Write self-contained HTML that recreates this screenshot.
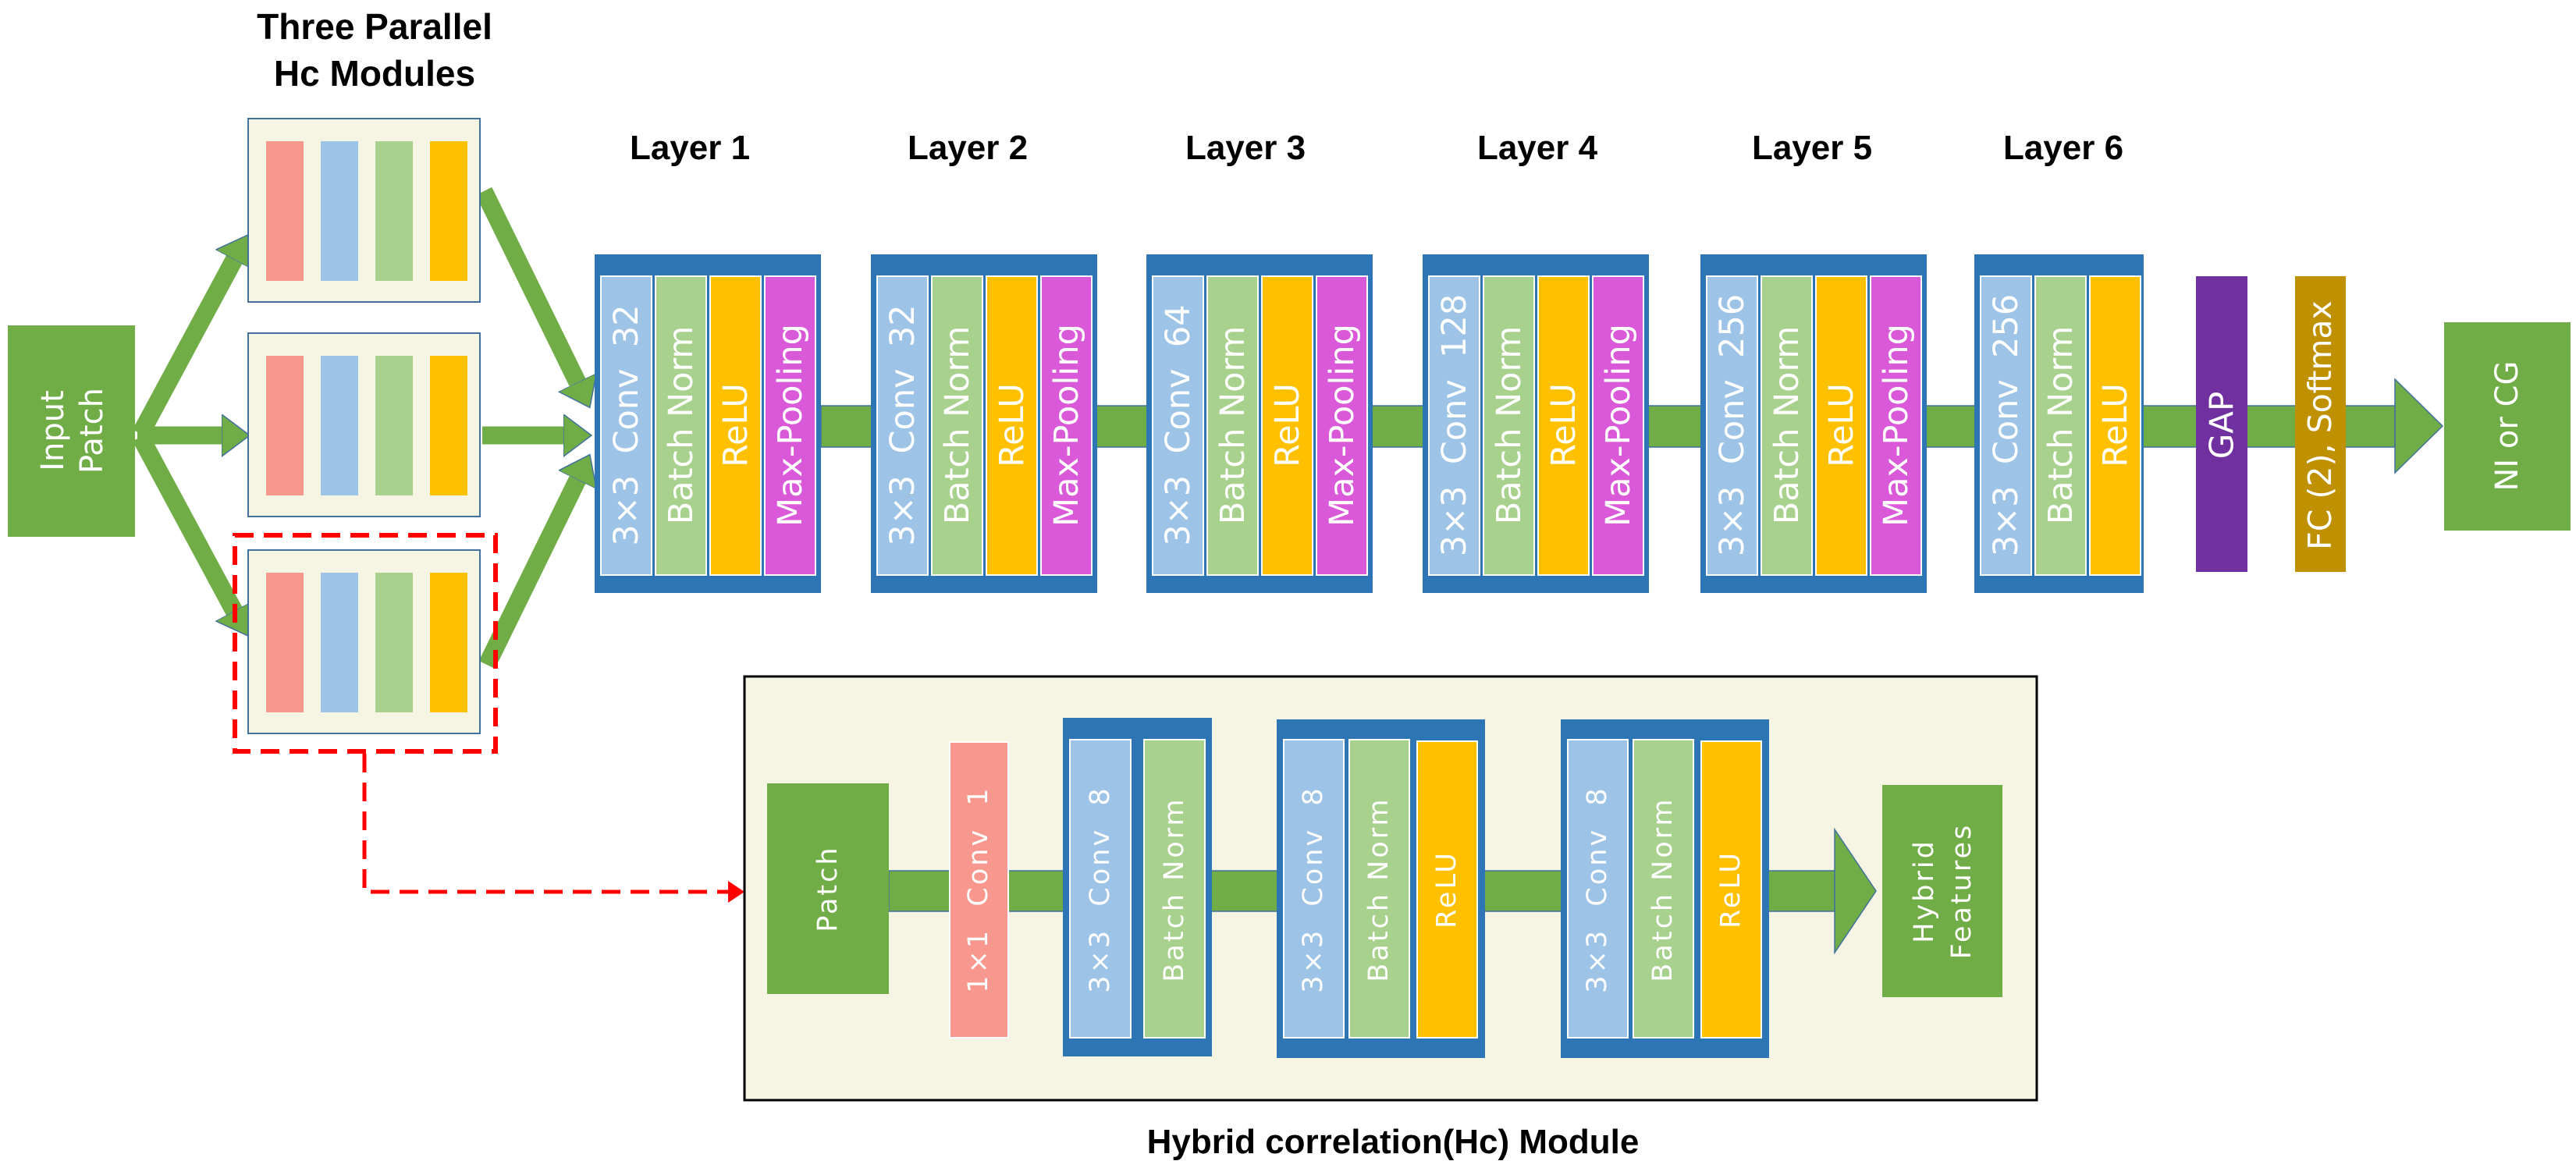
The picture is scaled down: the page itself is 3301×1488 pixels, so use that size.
<!DOCTYPE html>
<html><head><meta charset="utf-8"><style>
html,body{margin:0;padding:0;background:#fff;}
svg{display:block;}
.t{font-family:"DejaVu Sans",sans-serif;fill:#fff;}
.h{font-family:"Liberation Sans Narrow","Liberation Sans",sans-serif;font-weight:bold;fill:#000;}
</style></head><body>
<svg width="3301" height="1488" viewBox="0 0 3301 1488" xmlns="http://www.w3.org/2000/svg">
<defs>
<marker id="ah" markerUnits="userSpaceOnUse" markerWidth="60" markerHeight="60" refX="0" refY="27" orient="auto">
<polygon points="0,0 36,27 0,54" fill="#70AD47" stroke="#41719C" stroke-width="1.5"/>
</marker>
</defs>

<text class="h" x="480" y="50" font-size="46" text-anchor="middle">Three Parallel</text>
<text class="h" x="480" y="110" font-size="46" text-anchor="middle">Hc Modules</text>
<g class="h" font-size="44" text-anchor="middle">
<text x="884" y="204">Layer 1</text>
<text x="1240" y="204">Layer 2</text>
<text x="1596" y="204">Layer 3</text>
<text x="1970" y="204">Layer 4</text>
<text x="2322" y="204">Layer 5</text>
<text x="2644" y="204">Layer 6</text>
</g>

<rect x="10" y="417" width="163" height="271" fill="#70AD47"/>
<text class="t" font-size="40" text-anchor="middle" transform="translate(68,552) rotate(-90)" dominant-baseline="central">Input</text>
<text class="t" font-size="40" text-anchor="middle" transform="translate(118,552) rotate(-90)" dominant-baseline="central">Patch</text>

<g stroke="#70AD47" stroke-width="23" fill="none" marker-end="url(#ah)">
<line x1="180" y1="556" x2="300" y2="333"/>
<line x1="176" y1="558" x2="284" y2="558"/>
<line x1="180" y1="560" x2="300" y2="783"/>
<line x1="620" y1="245" x2="740" y2="490"/>
<line x1="618" y1="558" x2="722" y2="558"/>
<line x1="624" y1="852" x2="740" y2="615"/>
</g>

<g id="m1">
<rect x="318" y="152" width="297" height="235" fill="#F6F5E3" stroke="#41719C" stroke-width="2"/>
<rect x="341" y="181" width="48" height="179" fill="#F8978D"/>
<rect x="411" y="181" width="48" height="179" fill="#9DC3E6"/>
<rect x="481" y="181" width="48" height="179" fill="#A9D18E"/>
<rect x="551" y="181" width="48" height="179" fill="#FFC000"/>
</g>
<use href="#m1" y="275"/>
<use href="#m1" y="553"/>

<rect x="301" y="686" width="334" height="277" fill="none" stroke="#FF0000" stroke-width="6" stroke-dasharray="24 13"/>
<path d="M467 966 V1143 H935" fill="none" stroke="#FF0000" stroke-width="5" stroke-dasharray="24 13"/>
<polygon points="933,1129 954,1143 933,1157" fill="#FF0000"/>

<rect x="1052" y="520" width="2017" height="53" fill="#70AD47" stroke="#41719C" stroke-width="1.5"/>
<polygon points="3069,486 3130,546 3069,606" fill="#70AD47" stroke="#41719C" stroke-width="1.5"/>

<g id="L1">
<rect x="762" y="326" width="290" height="434" fill="#2E75B6"/>
<rect x="770" y="354" width="65" height="383" fill="#9DC3E6" stroke="#fff" stroke-width="2"/>
<rect x="840" y="354" width="65" height="383" fill="#A9D18E" stroke="#fff" stroke-width="2"/>
<rect x="910" y="354" width="65" height="383" fill="#FFC000" stroke="#fff" stroke-width="2"/>
<rect x="980" y="354" width="65" height="383" fill="#DA59D8" stroke="#fff" stroke-width="2"/>
<text class="t" font-size="43" text-anchor="middle" dominant-baseline="central" transform="translate(873,545) rotate(-90)">Batch Norm</text>
<text class="t" font-size="43" text-anchor="middle" dominant-baseline="central" transform="translate(943,545) rotate(-90)">ReLU</text>
<text class="t" font-size="43" text-anchor="middle" dominant-baseline="central" transform="translate(1013,545) rotate(-90)">Max-Pooling</text>
</g>
<use href="#L1" x="354"/>
<use href="#L1" x="707"/>
<use href="#L1" x="1061"/>
<use href="#L1" x="1417"/>
<g class="t" font-size="43" text-anchor="middle">
<text dominant-baseline="central" transform="translate(803,545) rotate(-90)" xml:space="preserve">3×3  Conv  32</text>
<text dominant-baseline="central" transform="translate(1157,545) rotate(-90)" xml:space="preserve">3×3  Conv  32</text>
<text dominant-baseline="central" transform="translate(1510,545) rotate(-90)" xml:space="preserve">3×3  Conv  64</text>
<text dominant-baseline="central" transform="translate(1864,545) rotate(-90)" xml:space="preserve">3×3  Conv  128</text>
<text dominant-baseline="central" transform="translate(2220,545) rotate(-90)" xml:space="preserve">3×3  Conv  256</text>
</g>
<rect x="2530" y="326" width="217" height="434" fill="#2E75B6"/>
<rect x="2538" y="354" width="65" height="383" fill="#9DC3E6" stroke="#fff" stroke-width="2"/>
<rect x="2608" y="354" width="65" height="383" fill="#A9D18E" stroke="#fff" stroke-width="2"/>
<rect x="2678" y="354" width="65" height="383" fill="#FFC000" stroke="#fff" stroke-width="2"/>
<g class="t" font-size="43" text-anchor="middle">
<text dominant-baseline="central" transform="translate(2571,545) rotate(-90)" xml:space="preserve">3×3  Conv  256</text>
<text dominant-baseline="central" transform="translate(2641,545) rotate(-90)">Batch Norm</text>
<text dominant-baseline="central" transform="translate(2711,545) rotate(-90)">ReLU</text>
</g>

<rect x="2814" y="354" width="66" height="379" fill="#7030A0"/>
<text class="t" font-size="42" text-anchor="middle" dominant-baseline="central" transform="translate(2847,545) rotate(-90)">GAP</text>
<rect x="2941" y="354" width="65" height="379" fill="#BF9000"/>
<text class="t" font-size="41" text-anchor="middle" dominant-baseline="central" transform="translate(2973,545) rotate(-90)">FC (2), Softmax</text>

<rect x="3132" y="413" width="162" height="267" fill="#70AD47"/>
<text class="t" font-size="40" text-anchor="middle" dominant-baseline="central" transform="translate(3213,546) rotate(-90)">NI or CG</text>

<rect x="954" y="867" width="1656" height="543" fill="#F6F5E3" stroke="#000" stroke-width="3"/>
<rect x="1139" y="1116" width="1212" height="52" fill="#70AD47" stroke="#41719C" stroke-width="1.5"/>
<polygon points="2351,1063 2404,1142 2351,1221" fill="#70AD47" stroke="#41719C" stroke-width="1.5"/>

<rect x="983" y="1004" width="156" height="270" fill="#70AD47"/>
<g class="t" font-size="35" letter-spacing="3" text-anchor="middle">
<text dominant-baseline="central" transform="translate(1061,1139) rotate(-90)">Patch</text>
</g>

<rect x="1217" y="951" width="75" height="379" fill="#F8978D" stroke="#fff" stroke-width="2"/>

<rect x="1362" y="920" width="191" height="434" fill="#2E75B6"/>
<rect x="1371" y="948" width="78" height="382" fill="#9DC3E6" stroke="#fff" stroke-width="2"/>
<rect x="1466" y="948" width="78" height="382" fill="#A9D18E" stroke="#fff" stroke-width="2"/>

<rect x="1636" y="922" width="267" height="434" fill="#2E75B6"/>
<rect x="1645" y="948" width="77" height="382" fill="#9DC3E6" stroke="#fff" stroke-width="2"/>
<rect x="1729" y="948" width="77" height="382" fill="#A9D18E" stroke="#fff" stroke-width="2"/>
<rect x="1816" y="950" width="77" height="380" fill="#FFC000" stroke="#fff" stroke-width="2"/>

<rect x="2000" y="922" width="267" height="434" fill="#2E75B6"/>
<rect x="2009" y="948" width="77" height="382" fill="#9DC3E6" stroke="#fff" stroke-width="2"/>
<rect x="2093" y="948" width="77" height="382" fill="#A9D18E" stroke="#fff" stroke-width="2"/>
<rect x="2180" y="950" width="77" height="380" fill="#FFC000" stroke="#fff" stroke-width="2"/>

<g class="t" font-size="35" letter-spacing="3" text-anchor="middle">
<text dominant-baseline="central" transform="translate(1254,1140) rotate(-90)" xml:space="preserve">1×1  Conv  1</text>
<text dominant-baseline="central" transform="translate(1410,1140) rotate(-90)" xml:space="preserve">3×3  Conv  8</text>
<text dominant-baseline="central" transform="translate(1505,1140) rotate(-90)">Batch Norm</text>
<text dominant-baseline="central" transform="translate(1683,1140) rotate(-90)" xml:space="preserve">3×3  Conv  8</text>
<text dominant-baseline="central" transform="translate(1767,1140) rotate(-90)">Batch Norm</text>
<text dominant-baseline="central" transform="translate(1854,1140) rotate(-90)">ReLU</text>
<text dominant-baseline="central" transform="translate(2047,1140) rotate(-90)" xml:space="preserve">3×3  Conv  8</text>
<text dominant-baseline="central" transform="translate(2131,1140) rotate(-90)">Batch Norm</text>
<text dominant-baseline="central" transform="translate(2218,1140) rotate(-90)">ReLU</text>
</g>

<rect x="2412" y="1006" width="154" height="272" fill="#70AD47"/>
<g class="t" font-size="35" letter-spacing="3" text-anchor="middle">
<text dominant-baseline="central" transform="translate(2466,1142) rotate(-90)">Hybrid</text>
<text dominant-baseline="central" transform="translate(2514,1142) rotate(-90)">Features</text>
</g>

<text class="h" x="1785" y="1478" font-size="44" text-anchor="middle">Hybrid correlation(Hc) Module</text>
</svg>
</body></html>
